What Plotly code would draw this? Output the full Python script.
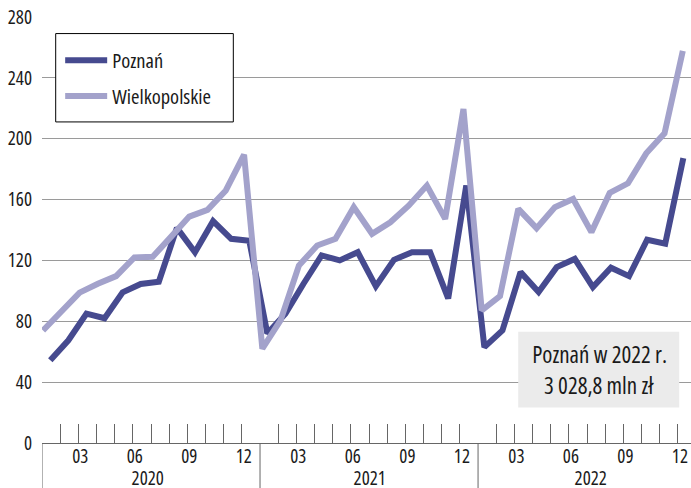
import plotly.graph_objects as go

months = list(range(36))
poznan = [54.4, 67.5, 85, 82, 99, 104.5, 106, 141.4, 125.4, 145.8, 134.2, 133,
          72, 85, 104.7, 123.3, 120, 125.4, 103, 120.4, 125.4, 125.4, 95, 169.2,
          63, 74, 112.3, 99.2, 115.6, 121, 102.5, 115.2, 109.7, 133.6, 131, 187.3]
wielkopolskie = [74, 87, 98.8, 104.7, 109.7, 122, 122.4, 135.5, 148.8, 153.2, 166, 189.5,
                 62, 80.7, 116.7, 129.8, 134.2, 155, 137.5, 145.1, 156, 169.2, 147.3, 219.5,
                 87.2, 96.6, 153.9, 141.2, 155, 160.4, 138.6, 164.4, 170.7, 190.4, 203.5, 257.7]
month_labels = ["03", "06", "09", "12"]
years = ["2020", "2021", "2022"]
y_ticks = [0, 40, 80, 120, 160, 200, 240, 280]

FONT = "Open Sans, sans-serif"
DARK = "#464a8f"
LIGHT = "#a3a2cb"

fig = go.Figure()
fig.add_trace(go.Scatter(x=months, y=poznan, name="Poznań", mode="lines",
                         line=dict(color=DARK, width=6), xaxis="x2", legendgroup="a"))
fig.add_trace(go.Scatter(x=months, y=wielkopolskie, name="Wielkopolskie", mode="lines",
                         line=dict(color=LIGHT, width=6), xaxis="x3", legendgroup="b"))

tickvals, ticktext = [], []
for k in range(1, 36):
    if k % 12 == 0:
        continue
    tickvals.append(k)
    m = k % 12 + 1
    ticktext.append(f"{m:02d}" if f"{m:02d}" in month_labels else "")

fig.update_layout(
    width=691, height=488,
    margin=dict(l=42, r=0, t=17, b=45),
    paper_bgcolor="white", plot_bgcolor="white",
    font=dict(family=FONT, size=19, color="#1a1a1a"),
    showlegend=True,
    legend=dict(x=0.028, y=0.945, xanchor="left", yanchor="top",
                bgcolor="rgba(0,0,0,0)", borderwidth=0,
                font=dict(size=20.5, family=FONT), tracegroupgap=6,
                traceorder="grouped", itemwidth=42),
    xaxis=dict(range=[0, 35.72], tickvals=tickvals, ticktext=ticktext,
               ticks="inside", ticklen=19, tickcolor="#666", tickwidth=1,
               showgrid=False, zeroline=False, showline=True, linecolor="#666",
               linewidth=1, tickfont=dict(size=19), ticklabelshift=2,
               ticklabelstandoff=-4),
    xaxis2=dict(range=[-0.459, 35.425], overlaying="x", visible=False),
    xaxis3=dict(range=[-0.0547, 35.448], overlaying="x", visible=False),
    yaxis=dict(range=[0, 280], tickvals=y_ticks, showgrid=True, gridcolor="#9a9a9a",
               gridwidth=1, zeroline=False, showline=False, ticks="",
               ticklabelstandoff=9, tickfont=dict(size=19)),
)

# legend frame
fig.add_shape(type="rect", xref="paper", yref="paper", x0=0.0211, x1=0.2948, y0=0.7537, y1=0.9611,
              fillcolor="white", line=dict(color="black", width=1), layer="above")

# year separators below axis
for k in [0, 12, 24]:
    fig.add_shape(type="line", xref="x", yref="paper", x0=k, x1=k, y0=0, y1=-0.11,
                  line=dict(color="#666", width=1))

for yr, xc in zip(years, [5.8, 18.0, 30.2]):
    fig.add_annotation(x=xc, y=-0.083, xref="x", yref="paper", text=yr, showarrow=False,
                       font=dict(size=19), yanchor="middle")

# info box
fig.add_shape(type="rect", xref="x", yref="y", x0=26.21, x1=35.07, y0=23.4, y1=73.1,
              fillcolor="#ebebeb", line=dict(width=0), layer="above")
fig.add_annotation(x=30.66, y=58.8, xref="x", yref="y", text="Poznań w 2022 r.",
                   showarrow=False, font=dict(size=23))
fig.add_annotation(x=30.66, y=38.2, xref="x", yref="y", text="3 028,8 mln zł",
                   showarrow=False, font=dict(size=23))

fig.write_html("out.html", config={"displayModeBar": False}, post_script="""
var s = document.createElement('style');
s.textContent = 'html,body{margin:0;padding:0;overflow:hidden} .js-plotly-plot text{font-stretch:condensed !important;}';
document.head.appendChild(s);
""")
